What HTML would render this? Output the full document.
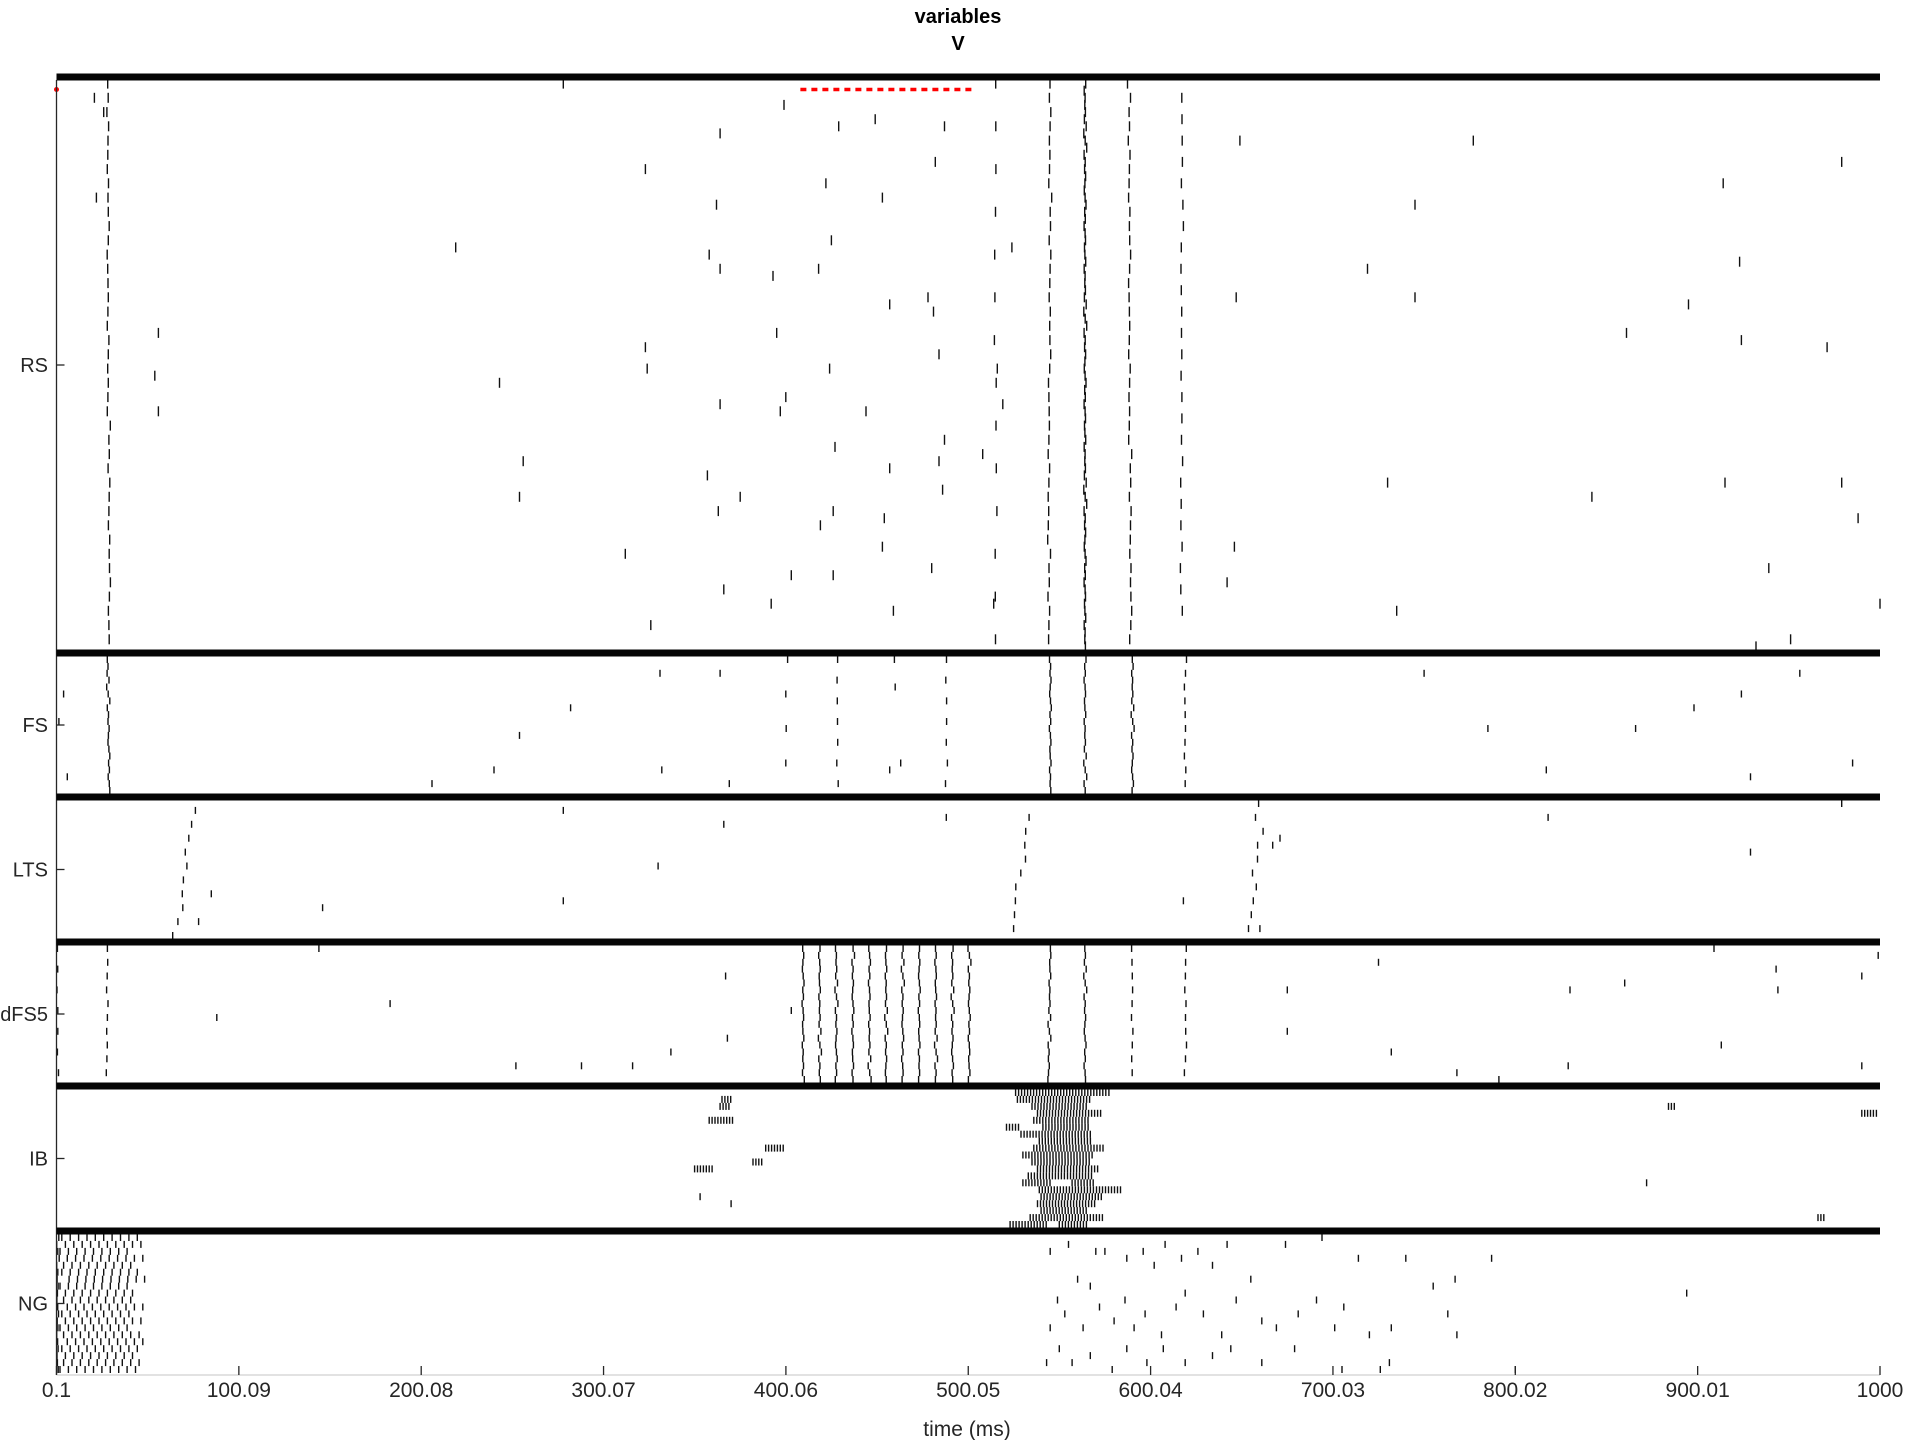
<!DOCTYPE html>
<html><head><meta charset="utf-8"><title>variables V raster</title>
<style>
html,body{margin:0;padding:0;background:#fff;width:1920px;height:1440px;overflow:hidden}
svg{display:block;font-family:"Liberation Sans",sans-serif}
</style></head>
<body>
<svg id="chart" width="1920" height="1440" viewBox="0 0 1920 1440" xmlns="http://www.w3.org/2000/svg">
<text x="958" y="23" text-anchor="middle" font-size="20" font-weight="bold">variables</text>
<text x="958" y="50" text-anchor="middle" font-size="20" font-weight="bold">V</text>
<text x="967" y="1436" text-anchor="middle" font-size="21" fill="#262626">time (ms)</text>
<g id="marks"></g>
</svg>
<script>
// ---- data ----
const popNames=['RS','FS','LTS','dFS5','IB','NG'];
const popCells=[80,20,20,20,20,20];
const xTicks=[0.1,100.09,200.08,300.07,400.06,500.05,600.04,700.03,800.02,900.01,1000];
const xTickLabels=['0.1','100.09','200.08','300.07','400.06','500.05','600.04','700.03','800.02','900.01','1000'];

// synchronous volleys: population, time, drift (top->bottom), cell step, first cell, last cell
const syncPop  =[0,0,0,0,0,0, 1,1,1,1,1,1,1,1,1, 2,2,2, 3,3,3,3,3,3,3,3,3,3,3,3,3,3,3,3,3, 5];
const syncTime =[28,545,564,588,617,515, 28,545,564,590,619,428,460,488,400, 75,533,660, 409.4,418.5,427.6,436.7,445.8,454.9,464,473.1,482.2,491.3,500.5,28,545,564,590,619,0.6, 0.6];
const syncDrift=[1,-1,0,1,0,0, 1,0,0,0,0,0,0,0,0, -10,-9,-6, 0,0,0,0,0,0,0,0,0,0,0,0,-1,0,0,0,0, 0];
const syncStep =[2,2,1,2,3,6, 1,1,1,1,2,3,4,3,5, 2,2,2, 1,1,1,1,1,1,1,1,1,1,1,2,1,1,2,2,3, 1];
const syncFrom =[0,0,0,0,2,0, 0,0,0,0,0,0,0,0,0, 1,2,0, 0,0,0,0,0,0,0,0,0,0,0,0,0,0,0,0,0, 0];
const syncTo   =[79,79,79,79,76,79, 19,19,19,19,19,19,5,19,19, 19,19,19, 19,19,19,19,19,19,19,19,19,19,19,19,19,19,19,19,19, 19];
// per-cell timing jitter (ms), applied cyclically within volleys
const syncJitter=[0.4,-0.3,0.8,0,-0.6,0.3,1.2,-0.2,0.5,-0.9,0.2,0.7,-0.4,0,0.9,-0.7,0.3,-0.1,0.6,-0.5,1.5,-1.2,0.4,2.0,-0.8];

// bursts: population, cell, start, end, inter-spike interval
const burstPop  =[4,4,4,4,4,4,4,4,4,4,4,4,4,4,4,4,4,4,4,4,4,4,4, 4,4,4,4,4,4,4,4,4,4,4,4, 5,5,5,5,5,5,5,5,5,5,5,5,5,5,5,5,5,5,5,5];
const burstCell =[0,1,2,3,4,5,5,6,7,8,9,10,11,12,13,13,14,15,16,17,18,19,19, 1,2,4,8,10,11,15,16,2,3,13,18, 0,1,2,3,4,5,6,7,8,9,10,11,12,13,14,15,16,17,18,19];
const burstStart=[526,527,535,538,536,521,541,529,539,536,530,535,538,533,530,557,539,540,538,540,534,523,550, 365,364,358,389,382,350,353,370,884,990,872,966, 3,5,2,6,4,3,7,2,5,4,6,3,5,2,4,6,3,5,4,2];
const burstEnd  =[578,568,566,573,567,528,566,567,568,575,569,567,572,568,545,569,585,573,570,566,575,543,565, 371,369,372,400,387,360,353,370,888,999,872,970, 45,48,42,50,44,47,49,43,46,45,50,44,48,42,47,49,45,43,46,44];
const burstIsi  =[1.65,1.65,1.65,1.65,1.65,1.65,1.65,1.65,1.65,1.65,1.65,1.65,1.65,1.65,1.65,1.65,1.65,1.65,1.65,1.65,1.65,1.65,1.65, 1.6,1.6,1.6,1.6,1.6,1.6,1.6,1.6,1.6,1.6,1.6,1.6, 4.6,4.6,4.6,4.6,4.6,4.6,4.6,4.6,4.6,4.6,4.6,4.6,4.6,4.6,4.6,4.6,4.6,4.6,4.6,4.6];

// scattered spikes per population
const rsT=[20.9,26,22,56,54,56,219,243,256,254,278,312,323,323,324,326,357,358,362,364,364,364,363,366,375,392,393,395,397,400,399,403,418,419,422,424,425,427,426,426,429,444,449,453,454,453,457,459,457,478,480,481,482,484,484,486,487,487,508,514,516,519,524,647,646,642,649,719,730,735,745,745,777,842,861,895,914,915,923,924,932,939,951,971,979,979,988,1000];
const rsC=[2,4,16,35,41,46,23,42,53,58,0,66,12,37,40,76,55,24,17,7,26,45,60,71,58,73,27,35,46,44,3,69,26,62,14,40,22,51,60,69,6,46,5,16,61,65,54,74,31,30,68,32,11,38,53,57,50,6,52,73,40,45,23,30,65,70,8,26,56,74,17,30,8,58,35,31,14,56,25,36,79,68,78,37,11,56,61,73];
const fsT=[4,6,1.4,206,240,254,282,331,332,364,369,457,463,750,785,817,866,898,924,929,956,985];
const fsC=[5,17,9,18,16,11,7,2,16,2,18,16,15,2,10,16,10,7,5,17,2,15];
const ltsT=[278,278,330,366,146,78,85,488,618,818,929,979,667,671,660];
const ltsC=[1,14,9,3,15,17,13,2,14,2,7,0,6,5,18];
const dfsT=[88,144,183,252,288,316,337,367,368,403,675,675,725,732,768,791,830,829,860,909,913,943,944,990,990,999];
const dfsC=[10,0,8,17,17,17,15,4,13,9,6,12,2,15,18,19,6,17,5,0,14,3,6,4,17,1];
const ibT=[];
const ibC=[];
const ngT=[545,555,560,570,575,587,596,602,608,617,626,634,642,655,674,694,714,740,767,787,545,549,553,563,567,572,580,586,591,597,606,614,619,629,639,647,661,669,681,691,701,706,720,732,755,763,543,550,557,567,579,587,598,607,619,634,644,661,679,705,726,731,768,800,894];
const ngC=[2,1,6,2,2,3,2,4,1,3,2,4,1,6,1,0,3,3,6,3,13,9,11,13,7,10,12,9,13,11,14,10,8,11,14,9,12,13,11,9,13,10,14,13,7,11,18,16,18,17,19,16,18,16,18,17,16,18,16,19,19,18,14,19,8];
const scatT=[rsT,fsT,ltsT,dfsT,ibT,ngT];
const scatC=[rsC,fsC,ltsC,dfsC,ibC,ngC];

// ---- layout ----
const NS='http://www.w3.org/2000/svg';
const X0=56.5,X1=1880,T0=0.1,T1=1000;
const xs=t=>X0+(t-T0)/(T1-T0)*(X1-X0);
const sepY=[77,653,797,942,1086,1231];
const bandTop=[80,656,800,945,1089,1234];
const bandBot=[650,794,939,1083,1228,1373];
const tickLen=[10,7,7,7,7,7];
const g=document.getElementById('marks');
function mk(tag,attrs){const e=document.createElementNS(NS,tag);for(const k in attrs)e.setAttribute(k,attrs[k]);g.appendChild(e);return e;}
function cy(p,c){const h=(bandBot[p]-bandTop[p])/popCells[p];return bandTop[p]+(c+0.5)*h;}
function spike(p,t,c){
  if(t<T0-1||t>T1+1)return;
  const x=xs(t),y=cy(p,c),L=tickLen[p];
  const e=mk('line',{x1:x.toFixed(1),x2:x.toFixed(1),y1:(y-L/2).toFixed(1),y2:(y+L/2).toFixed(1),stroke:'#111','stroke-width':1.4});
  
  
}
// sync volleys
for(let i=0;i<syncTime.length;i++){
  const p=syncPop[i],n=popCells[p];
  const jScale=(p===2)?1.5:0.5;
  for(let c=syncFrom[i];c<=syncTo[i];c+=syncStep[i]){
    const j=syncJitter[(c+i*7)%syncJitter.length]*jScale;
    spike(p,Math.max(0.2,syncTime[i]+syncDrift[i]*c/(n-1)+j),c);
  }
}
// bursts
for(let i=0;i<burstStart.length;i++){
  for(let t=burstStart[i];t<=burstEnd[i]+0.01;t+=burstIsi[i]) spike(burstPop[i],t,burstCell[i]);
}
// scattered
for(let p=0;p<6;p++) for(let i=0;i<scatT[p].length;i++) spike(p,scatT[p][i],scatC[p][i]);

// red dashed marker
const rd=mk('line',{x1:xs(408),x2:xs(504),y1:89.5,y2:89.5,stroke:'#ff0000','stroke-width':3.5,'stroke-dasharray':'6,5'});


const dot=mk('circle',{cx:X0,cy:89.5,r:2.5,fill:'#ff0000'});



// axes
const ya=mk('line',{x1:X0,x2:X0,y1:80,y2:1375,stroke:'#262626','stroke-width':1.3});


const xa=mk('line',{x1:X0,x2:X1,y1:1375,y2:1375,stroke:'#d0d0d0','stroke-width':1.3});


for(let i=0;i<xTicks.length;i++){
  const x=xs(xTicks[i]);
  const tk=mk('line',{x1:x,x2:x,y1:1375,y2:1366,stroke:'#262626','stroke-width':1.3});
  
  
  const tl=mk('text',{x:x,y:1397,'text-anchor':'middle','font-size':21,fill:'#262626'});
  tl.textContent=xTickLabels[i];
  
  
}
// separators and population labels
for(let p=0;p<6;p++){
  const s=mk('rect',{x:X0,y:sepY[p]-3.5,width:X1-X0,height:7,fill:'#050505'});
  
  
  const my=(bandTop[p]+bandBot[p])/2;
  const yt=mk('line',{x1:X0,x2:X0+8,y1:my,y2:my,stroke:'#262626','stroke-width':1.3});
  
  
  const lb=mk('text',{x:48,y:my+7,'text-anchor':'end','font-size':20,fill:'#262626'});
  lb.textContent=popNames[p];
  
  
}
</script>
</body></html>
